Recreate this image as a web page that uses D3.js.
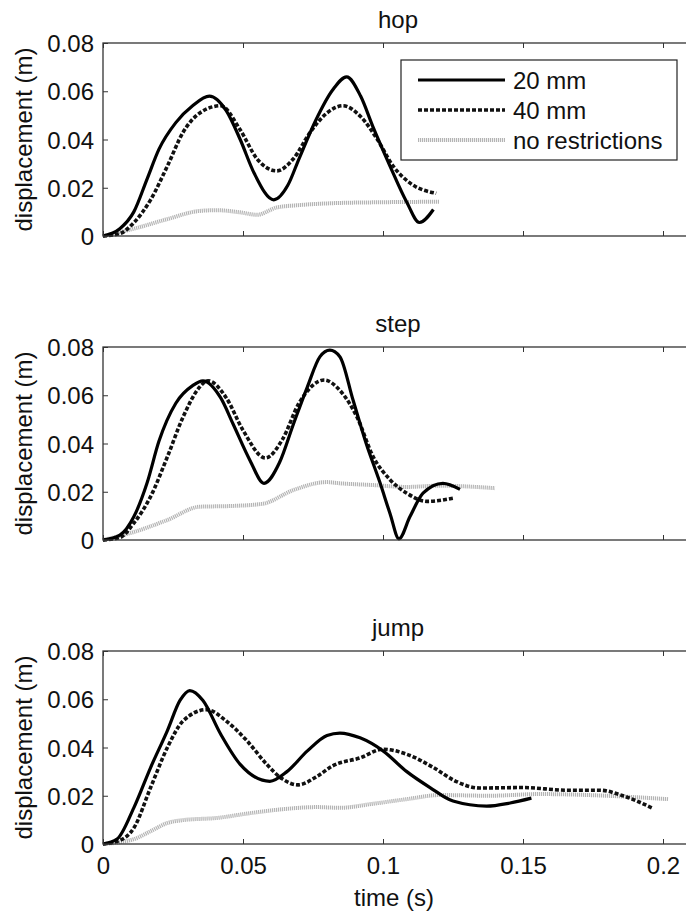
<!DOCTYPE html>
<html>
<head>
<meta charset="utf-8">
<script src="https://cdn.jsdelivr.net/npm/d3@7"></script>
<style>
  body { margin: 0; background: #fff; }
  text { font-family: "Liberation Sans", Arial, sans-serif; fill: #111; }
</style>
</head>
<body>
<script>
// panel titles and y ticks
var panels = ["hop", "step", "jump"];
var yTicks = [0, 0.02, 0.04, 0.06, 0.08];
var xTicks = [0, 0.05, 0.1, 0.15, 0.2];
var seriesNames = ["20 mm", "40 mm", "no restrictions"];

// hop
var hop20 = [[0,0],[0.006,0.003],[0.011,0.010],[0.0157,0.0235],[0.020,0.036],[0.026,0.047],[0.032,0.054],[0.038,0.058],[0.044,0.052],[0.049,0.040],[0.054,0.026],[0.061,0.015],[0.066,0.021],[0.070,0.032],[0.076,0.048],[0.082,0.0605],[0.087,0.066],[0.092,0.058],[0.0965,0.045],[0.1025,0.029],[0.1085,0.014],[0.113,0.0056],[0.118,0.011]];
var hop40 = [[0,0],[0.006,0.001],[0.011,0.0055],[0.017,0.015],[0.023,0.029],[0.0286,0.043],[0.0346,0.051],[0.042,0.054],[0.049,0.044],[0.055,0.032],[0.062,0.027],[0.068,0.032],[0.074,0.043],[0.080,0.051],[0.0857,0.054],[0.092,0.0495],[0.098,0.040],[0.1036,0.029],[0.1096,0.022],[0.119,0.0177]];
var hopNo = [[0,0],[0.011,0.003],[0.023,0.007],[0.0346,0.0104],[0.0407,0.0107],[0.049,0.0098],[0.055,0.0088],[0.062,0.0118],[0.070,0.0128],[0.082,0.0136],[0.100,0.014],[0.120,0.0142]];

// step
var step20 = [[0,0],[0.006,0.002],[0.011,0.0096],[0.0157,0.0235],[0.020,0.041],[0.026,0.0567],[0.032,0.064],[0.0357,0.066],[0.042,0.059],[0.0465,0.048],[0.0525,0.033],[0.0575,0.0235],[0.063,0.032],[0.068,0.048],[0.073,0.0635],[0.0775,0.076],[0.081,0.0787],[0.0846,0.076],[0.0893,0.058],[0.094,0.040],[0.099,0.0235],[0.1025,0.011],[0.1057,0.0005],[0.1096,0.0096],[0.1143,0.0194],[0.1214,0.0235],[0.1275,0.021]];
var step40 = [[0,0],[0.006,0.001],[0.011,0.007],[0.017,0.018],[0.023,0.0345],[0.0286,0.051],[0.0346,0.0635],[0.0375,0.066],[0.044,0.059],[0.050,0.0455],[0.058,0.034],[0.064,0.0415],[0.070,0.0567],[0.079,0.0663],[0.0846,0.062],[0.0907,0.051],[0.0965,0.0345],[0.1025,0.025],[0.1085,0.0194],[0.1157,0.016],[0.125,0.0173]];
var stepNo = [[0,0],[0.011,0.0033],[0.023,0.0083],[0.0346,0.0138],[0.046,0.0141],[0.057,0.015],[0.068,0.0207],[0.080,0.024],[0.0846,0.0235],[0.096,0.0228],[0.1085,0.022],[0.120,0.0225],[0.140,0.0215]];

// jump
var jump20 = [[0,0],[0.005,0.002],[0.011,0.015],[0.017,0.0317],[0.023,0.047],[0.0275,0.0595],[0.031,0.0636],[0.0357,0.0595],[0.042,0.0456],[0.049,0.033],[0.0596,0.026],[0.0657,0.030],[0.073,0.0386],[0.080,0.045],[0.0846,0.046],[0.0918,0.044],[0.100,0.0386],[0.1085,0.030],[0.1168,0.0234],[0.125,0.0178],[0.137,0.0157],[0.1454,0.017],[0.153,0.019]];
var jump40 = [[0,0],[0.006,0.0015],[0.011,0.0066],[0.017,0.0234],[0.023,0.040],[0.0286,0.051],[0.037,0.0557],[0.044,0.051],[0.0514,0.0428],[0.0585,0.033],[0.064,0.027],[0.0697,0.0245],[0.0764,0.028],[0.082,0.0324],[0.0918,0.0357],[0.100,0.0393],[0.1085,0.0372],[0.118,0.0317],[0.126,0.026],[0.1346,0.0232],[0.150,0.0234],[0.1657,0.0223],[0.1775,0.0223],[0.1857,0.020],[0.196,0.015]];
var jumpNo = [[0,0],[0.011,0.002],[0.017,0.0053],[0.023,0.0087],[0.0286,0.0099],[0.0407,0.0108],[0.0526,0.0128],[0.064,0.0144],[0.0764,0.0153],[0.0846,0.015],[0.096,0.0166],[0.1085,0.0186],[0.1204,0.0203],[0.138,0.020],[0.156,0.0207],[0.1798,0.020],[0.2018,0.0186]];

var panelData = [[hop20, hop40, hopNo], [step20, step40, stepNo], [jump20, jump40, jumpNo]];

var width = 686, height = 915;
var left = 103, right = 691;
var tops = [43, 347, 651], panelH = 193;
var fs = "24px";

var styles = [
  {stroke: "#000", width: 3.2, dash: null},
  {stroke: "#111", width: 3.6, dash: "4,2"},
  {stroke: "#b4b4b4", width: 4, dash: "1.2,0.8"}
];

var svg = d3.select("body").append("svg")
    .attr("width", width)
    .attr("height", height);

var x = d3.scaleLinear().domain([0, 0.21]).range([left, right]);

panels.forEach(function(name, i){
    var top = tops[i];
    var y = d3.scaleLinear().domain([0, 0.08]).range([top + panelH, top]);
    var g = svg.append("g");

    var line = d3.line()
        .x(function(d){ return x(d[0]); })
        .y(function(d){ return y(d[1]); })
        .curve(d3.curveMonotoneX);

    //draw series, lightest first
    [2, 1, 0].forEach(function(k){
        g.append("path")
            .datum(panelData[i][k])
            .attr("fill", "none")
            .attr("stroke", styles[k].stroke)
            .attr("stroke-width", styles[k].width)
            .attr("stroke-dasharray", styles[k].dash)
            .attr("d", line);
    });

    //box
    g.append("rect")
        .attr("x", left).attr("y", top)
        .attr("width", right - left).attr("height", panelH)
        .attr("fill", "none").attr("stroke", "#333").attr("stroke-width", 1.3);

    //inward ticks on every side
    var bottomAxis = d3.axisBottom(x).tickValues(xTicks).tickSizeInner(-5).tickSizeOuter(0)
        .tickFormat(i == 2 ? d3.format("") : function(){ return ""; });
    var ba = g.append("g").attr("transform", "translate(0," + (top + panelH) + ")").call(bottomAxis);
    ba.select(".domain").remove();
    ba.selectAll("text").attr("y", 13).attr("dy", "0.71em").style("font-size", fs);

    var topAxis = d3.axisTop(x).tickValues(xTicks).tickSizeInner(-5).tickSizeOuter(0).tickFormat("");
    g.append("g").attr("transform", "translate(0," + top + ")").call(topAxis).select(".domain").remove();

    var leftAxis = d3.axisLeft(y).tickValues(yTicks).tickSizeInner(-5).tickSizeOuter(0)
        .tickFormat(function(d){ return d === 0 ? "0" : d3.format(".2f")(d); });
    var la = g.append("g").attr("transform", "translate(" + left + ",0)").call(leftAxis);
    la.select(".domain").remove();
    la.selectAll("text").attr("x", -9).attr("dy", "0.36em").style("font-size", fs);

    var rightAxis = d3.axisRight(y).tickValues(yTicks).tickSizeInner(-5).tickSizeOuter(0).tickFormat("");
    g.append("g").attr("transform", "translate(" + right + ",0)").call(rightAxis).select(".domain").remove();

    g.selectAll(".tick line").attr("stroke", "#333");

    //title
    g.append("text")
        .attr("x", (left + right) / 2 + 1).attr("y", top - 15)
        .attr("text-anchor", "middle")
        .style("font-size", fs)
        .text(name);

    //y label
    g.append("text")
        .attr("transform", "translate(32," + (top + panelH / 2) + ") rotate(-90)")
        .attr("text-anchor", "middle")
        .style("font-size", fs)
        .text("displacement (m)");
});

svg.append("text")
    .attr("x", (left + right) / 2 - 3).attr("y", 906)
    .attr("text-anchor", "middle")
    .style("font-size", fs)
    .text("time (s)");

//legend in the first panel
var legend = svg.append("g");
legend.append("rect")
    .attr("x", 401).attr("y", 60).attr("width", 276).attr("height", 100)
    .attr("fill", "#fff").attr("stroke", "#222").attr("stroke-width", 1.2);
seriesNames.forEach(function(n, k){
    var ly = 80 + k * 30;
    legend.append("line")
        .attr("x1", 418).attr("x2", 505).attr("y1", ly).attr("y2", ly)
        .attr("stroke", styles[k].stroke)
        .attr("stroke-width", styles[k].width)
        .attr("stroke-dasharray", styles[k].dash);
    legend.append("text")
        .attr("x", 513).attr("y", ly).attr("dy", "0.36em")
        .style("font-size", fs)
        .text(n);
});
</script>
</body>
</html>
